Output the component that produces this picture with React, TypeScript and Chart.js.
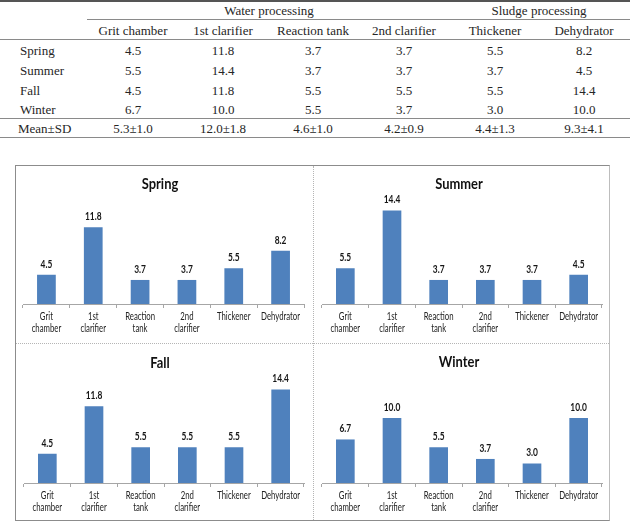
import React, { useEffect, useRef } from "react";
import { Chart, registerables } from "chart.js";

Chart.register(...registerables);

// ---------- data ----------
const categories = ["Grit chamber", "1st clarifier", "Reaction tank", "2nd clarifier", "Thickener", "Dehydrator"];
const groups = ["Water processing", "Sludge processing"];
const seasons = ["Spring", "Summer", "Fall", "Winter"];
const springValues = [4.5, 11.8, 3.7, 3.7, 5.5, 8.2];
const summerValues = [5.5, 14.4, 3.7, 3.7, 3.7, 4.5];
const fallValues = [4.5, 11.8, 5.5, 5.5, 5.5, 14.4];
const winterValues = [6.7, 10.0, 5.5, 3.7, 3.0, 10.0];
const meanSD = ["5.3±1.0", "12.0±1.8", "4.6±1.0", "4.2±0.9", "4.4±1.3", "9.3±4.1"];
const meanLabel = "Mean±SD";
const seasonValues = [springValues, summerValues, fallValues, winterValues];

// ---------- layout ----------
const SERIF = "'Liberation Serif', 'Times New Roman', serif";
const SANS = "Lato, 'Open Sans', sans-serif";
const colX = [133, 223, 313, 404, 495, 584];
const groupX = [269, 539];
const rowY = [50, 70, 90, 109];
const meanY = 128;
const headerY = 30;
const groupY = 10;

const panels = [
  { left: 16, top: 166, width: 296, padL: 7, padR: 8, titleX: 144, titleY: 18 },
  { left: 314, top: 166, width: 295, padL: 8, padR: 7, titleX: 145, titleY: 18 },
  { left: 16, top: 345, width: 296, padL: 8, padR: 8, titleX: 144, titleY: 18.5 },
  { left: 314, top: 345, width: 295, padL: 8, padR: 7, titleX: 145, titleY: 17 },
];
const PANEL_H = 176;

function drawSquished(ctx: any, t: string, x: number, y: number, sx: number) {
  ctx.save();
  ctx.translate(x, y);
  ctx.scale(sx, 1);
  ctx.fillText(t, 0, 0);
  ctx.restore();
}

function BarPanel({ title, values, p }: any) {
  const ref = useRef<HTMLCanvasElement>(null);
  useEffect(() => {
    const overlay = {
      id: "overlay",
      afterDatasetsDraw(chart: any) {
        const ctx = chart.ctx;
        ctx.save();
        ctx.textAlign = "center";
        ctx.textBaseline = "middle";
        // title
        ctx.fillStyle = "#111";
        ctx.font = `bold 15px ${SANS}`;
        drawSquished(ctx, title, p.titleX, p.titleY, 0.86);
        // value labels
        ctx.font = `bold 10.5px ${SANS}`;
        ctx.fillStyle = "#161616";
        const meta = chart.getDatasetMeta(0);
        meta.data.forEach((bar: any, i: number) => {
          drawSquished(ctx, values[i].toFixed(1), bar.x, bar.y - 10.5, 0.8);
        });
        // category labels
        const xs = chart.scales.x;
        ctx.font = `10.5px ${SANS}`;
        ctx.fillStyle = "#222";
        categories.forEach((c, i) => {
          const x = xs.getPixelForValue(i);
          c.split(" ").forEach((line, k) => {
            drawSquished(ctx, line, x, xs.top + 12.7 + k * 12.3, 0.74);
          });
        });
        ctx.restore();
      },
    };
    const chart = new Chart(ref.current!, {
      type: "bar",
      data: {
        labels: categories,
        datasets: [
          {
            data: values,
            backgroundColor: "#4f81bd",
            borderWidth: 0,
            barPercentage: 0.4,
            categoryPercentage: 1,
          },
        ],
      },
      options: {
        animation: false,
        responsive: false,
        maintainAspectRatio: false,
        layout: { padding: { left: p.padL, right: p.padR, top: 34, bottom: 0 } },
        plugins: { legend: { display: false }, tooltip: { enabled: false }, title: { display: false } },
        scales: {
          x: {
            grid: { offset: true, drawOnChartArea: false, drawTicks: true, tickLength: 4, color: "#a6a6a6" },
            border: { display: true, color: "#a6a6a6" },
            ticks: { display: false },
            afterFit: (s: any) => {
              s.height = 38;
            },
          },
          y: { display: false, min: 0, max: 16 },
        },
      },
      plugins: [overlay],
    });
    return () => chart.destroy();
  }, []);
  return (
    <canvas
      ref={ref}
      width={p.width}
      height={PANEL_H}
      style={{ position: "absolute", left: p.left, top: p.top, width: p.width, height: PANEL_H }}
    />
  );
}

const txt = (s: string, x: number, y: number, align: "center" | "left" = "center") => (
  <div
    key={`${s}-${x}-${y}`}
    style={{
      position: "absolute",
      left: x,
      top: y,
      transform: align === "center" ? "translate(-50%, -50%)" : "translate(0, -50%)",
      whiteSpace: "nowrap",
      fontFamily: SERIF,
      fontSize: 13,
      color: "#262626",
      lineHeight: "15px",
    }}
  >
    {s}
  </div>
);

const hline = (x: number, y: number, w: number, h: number, c: string) => (
  <div key={`l-${y}`} style={{ position: "absolute", left: x, top: y, width: w, height: h, background: c }} />
);

export default function App() {
  return (
    <div style={{ position: "absolute", left: 0, top: 0, width: 630, height: 521, background: "#fff", overflow: "hidden" }}>
      {/* table */}
      {hline(0, 0, 630, 2, "#555")}
      {hline(87, 19, 543, 1, "#8a8a8a")}
      {hline(0, 39, 630, 1, "#8a8a8a")}
      {hline(0, 118, 630, 1, "#8a8a8a")}
      {hline(0, 137, 630, 1, "#8a8a8a")}
      {groups.map((g, i) => txt(g, groupX[i], groupY))}
      {categories.map((c, i) => txt(c, colX[i], headerY))}
      {seasons.map((s, r) => (
        <React.Fragment key={s}>
          {txt(s, 20, rowY[r], "left")}
          {seasonValues[r].map((v, i) => txt(v.toFixed(1), colX[i], rowY[r]))}
        </React.Fragment>
      ))}
      {txt(meanLabel, 18, meanY, "left")}
      {meanSD.map((m, i) => txt(m, colX[i], meanY))}

      {/* charts box */}
      <div
        style={{
          position: "absolute",
          left: 15,
          top: 165,
          width: 595,
          height: 356,
          boxSizing: "border-box",
          border: "1px solid #8c8c8c",
          borderRightColor: "#bdbdbd",
        }}
      />
      {seasons.map((s, i) => (
        <BarPanel key={s} title={s} values={seasonValues[i]} p={panels[i]} />
      ))}
      <div style={{ position: "absolute", left: 313, top: 166, width: 0, height: 354, borderLeft: "1px dotted #b5b5b5" }} />
      <div style={{ position: "absolute", left: 16, top: 343, width: 593, height: 0, borderTop: "1px dotted #b5b5b5" }} />
    </div>
  );
}
